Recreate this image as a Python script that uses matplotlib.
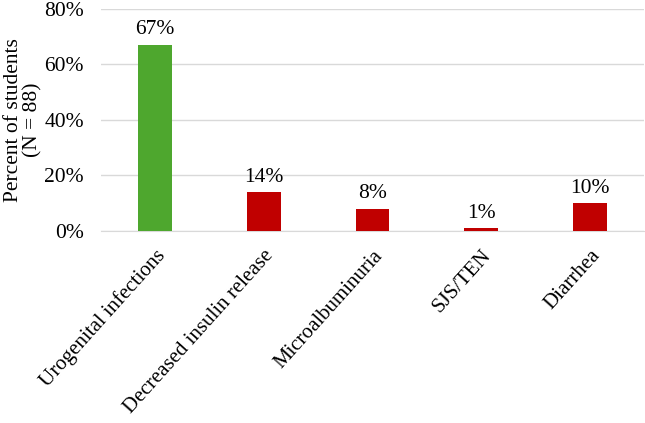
import matplotlib.pyplot as plt
from matplotlib.ticker import FuncFormatter

categories = ["Urogenital infections", "Decreased insulin release",
              "Microalbuminuria", "SJS/TEN", "Diarrhea"]
percent = [67, 14, 8, 1, 10]
bar_colors = ["#4ea72e", "#c00000", "#c00000", "#c00000", "#c00000"]

plt.rcParams["font.family"] = ["Liberation Serif", "DejaVu Serif"]
fs = 15.5

fig = plt.figure(figsize=(6.45, 4.23), dpi=100)
ax = fig.add_axes([0.156, 0.454, 0.843, 0.525])

x = range(len(categories))
bars = ax.bar(x, percent, width=0.31, color=bar_colors, zorder=3)
for b, v in zip(bars, percent):
    ax.text(b.get_x() + b.get_width() / 2, v + 2, f"{v}%",
            ha="center", va="bottom", fontsize=fs)

ax.set_xlim(-0.5, len(categories) - 0.5)
ax.set_ylim(0, 80)
ax.set_yticks([0, 20, 40, 60, 80])
ax.yaxis.set_major_formatter(FuncFormatter(lambda v, p: f"{v:.0f}%"))
ax.grid(axis="y", color="#d9d9d9", linewidth=1, zorder=0)
for s in ["top", "right", "left"]:
    ax.spines[s].set_visible(False)
ax.spines["bottom"].set_color("#d9d9d9")
ax.tick_params(axis="both", length=0, labelsize=fs)
ax.tick_params(axis="y", pad=12)
ax.set_xticks(list(x))
ax.set_xticklabels(categories, rotation=48, ha="right", rotation_mode="anchor",
                   fontsize=15)
ax.tick_params(axis="x", pad=11)
ax.set_ylabel("Percent of students\n(N = 88)", fontsize=fs, linespacing=1.05)
ax.yaxis.set_label_coords(-0.106, 0.5)

fig.savefig("out.png", dpi=100)
